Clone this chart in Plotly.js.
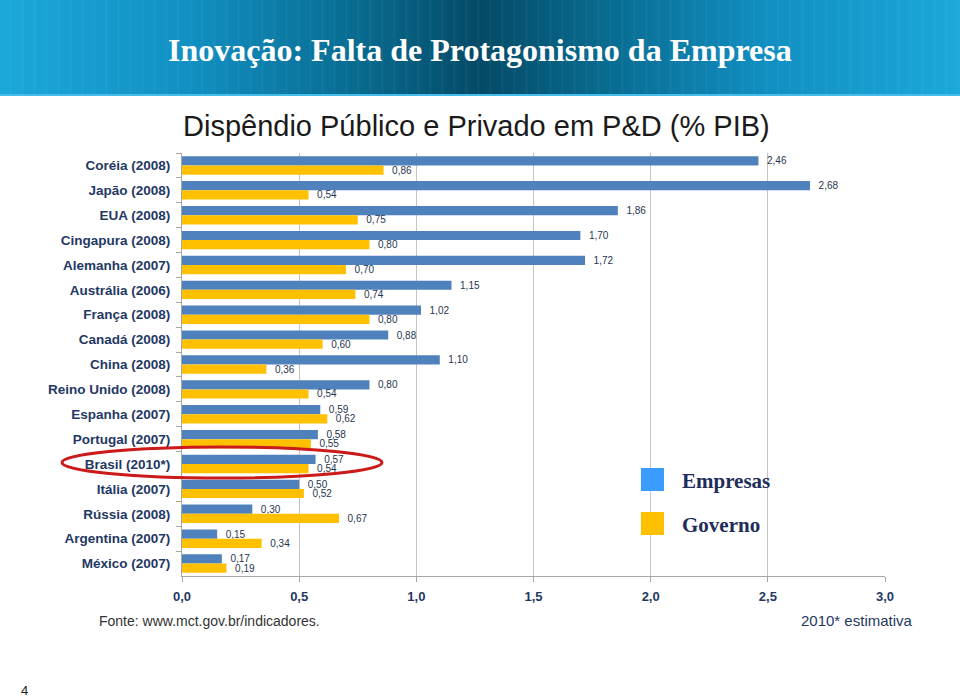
<!DOCTYPE html>
<html>
<head>
<meta charset="utf-8">
<script src="https://cdn.plot.ly/plotly-3.0.1.min.js"></script>
<style>
  html, body { margin: 0; padding: 0; background: #ffffff; }
  #wrap { position: relative; width: 960px; height: 699px; overflow: hidden; }
  #banner {
    position: absolute; left: 0; top: 0; width: 960px; height: 94px;
    background:
      repeating-linear-gradient(to right, rgba(255,255,255,0.0) 0px, rgba(255,255,255,0.0) 9px, rgba(255,255,255,0.05) 10px, rgba(255,255,255,0.0) 12px),
      linear-gradient(to right, #1ba8da 0%, #118fc2 20%, #08698d 38%, #044a66 50%, #08698d 62%, #118fc2 80%, #1ba8da 100%);
    border-bottom: 2px solid #45bde8;
  }
  #chart { position: absolute; left: 0; top: 0; width: 960px; height: 699px; }
</style>
</head>
<body>
<div id="wrap">
  <div id="banner"></div>
  <div id="chart"></div>
</div>
<script>
// ---- data ----
var countries = ['Coréia (2008)', 'Japão (2008)', 'EUA (2008)', 'Cingapura (2008)', 'Alemanha (2007)',
  'Austrália (2006)', 'França (2008)', 'Canadá (2008)', 'China (2008)', 'Reino Unido (2008)',
  'Espanha (2007)', 'Portugal (2007)', 'Brasil (2010*)', 'Itália (2007)', 'Rússia (2008)',
  'Argentina (2007)', 'México (2007)'];
var empresas = [2.46, 2.68, 1.86, 1.70, 1.72, 1.15, 1.02, 0.88, 1.10, 0.80, 0.59, 0.58, 0.57, 0.50, 0.30, 0.15, 0.17];
var governo  = [0.86, 0.54, 0.75, 0.80, 0.70, 0.74, 0.80, 0.60, 0.36, 0.54, 0.62, 0.55, 0.54, 0.52, 0.67, 0.34, 0.19];
var xTickVals = [0, 0.5, 1.0, 1.5, 2.0, 2.5, 3.0];
var seriesNames = ['Empresas', 'Governo'];

// ---- geometry helpers (pixel -> paper) ----
var ML = 182, MR = 75, MT = 153, MB = 123, W = 960, H = 699;
var PW = W - ML - MR, PH = H - MT - MB;
function px(X) { return (X - ML) / PW; }
function py(Y) { return (H - MB - Y) / PH; }

var labelFont = { family: 'Liberation Sans, Arial, sans-serif', size: 10, color: '#1f3550' };

var traces = [
  {
    type: 'bar', orientation: 'h', name: seriesNames[0],
    y: countries, x: empresas,
    marker: { color: '#4f81bd' },
    text: empresas, texttemplate: '\u00a0\u00a0%{x:.2f}', textposition: 'outside',
    textfont: labelFont, constraintext: 'none', cliponaxis: false,
    hoverinfo: 'x+y'
  },
  {
    type: 'bar', orientation: 'h', name: seriesNames[1],
    y: countries, x: governo,
    marker: { color: '#ffc000' },
    text: governo, texttemplate: '\u00a0\u00a0%{x:.2f}', textposition: 'outside',
    textfont: labelFont, constraintext: 'none', cliponaxis: false,
    hoverinfo: 'x+y'
  }
];

var ann = [];
ann.push({ xref: 'paper', yref: 'paper', x: px(480), y: py(50), xanchor: 'center', yanchor: 'middle',
  text: '<b>Inovação: Falta de Protagonismo da Empresa</b>', showarrow: false,
  font: { family: 'Liberation Serif, Times New Roman, serif', size: 32, color: '#ffffff' } });
ann.push({ xref: 'paper', yref: 'paper', x: px(476), y: py(126), xanchor: 'center', yanchor: 'middle',
  text: 'Dispêndio Público e Privado em P&D (% PIB)', showarrow: false,
  font: { family: 'Liberation Sans, Arial, sans-serif', size: 29, color: '#1a1a1a' } });
ann.push({ xref: 'paper', yref: 'paper', x: px(680), y: py(481), xanchor: 'left', yanchor: 'middle',
  text: '<b>' + seriesNames[0] + '</b>', showarrow: false,
  font: { family: 'Liberation Serif, Times New Roman, serif', size: 21, color: '#1f2d5a' } });
ann.push({ xref: 'paper', yref: 'paper', x: px(680), y: py(525), xanchor: 'left', yanchor: 'middle',
  text: '<b>' + seriesNames[1] + '</b>', showarrow: false,
  font: { family: 'Liberation Serif, Times New Roman, serif', size: 21, color: '#1f2d5a' } });
ann.push({ xref: 'paper', yref: 'paper', x: px(97), y: py(621), xanchor: 'left', yanchor: 'middle',
  text: 'Fonte: www.mct.gov.br/indicadores.', showarrow: false,
  font: { family: 'Liberation Sans, Arial, sans-serif', size: 14, color: '#333333' } });
ann.push({ xref: 'paper', yref: 'paper', x: px(915), y: py(620), xanchor: 'right', yanchor: 'middle',
  text: '2010* estimativa', showarrow: false,
  font: { family: 'Liberation Sans, Arial, sans-serif', size: 15, color: '#1f3864' } });
ann.push({ xref: 'paper', yref: 'paper', x: px(19), y: py(690), xanchor: 'left', yanchor: 'middle',
  text: '4', showarrow: false,
  font: { family: 'Liberation Sans, Arial, sans-serif', size: 13, color: '#222222' } });

var shapes = [
  { type: 'rect', xref: 'paper', yref: 'paper', x0: px(641), x1: px(664), y0: py(491), y1: py(468),
    fillcolor: '#3a9cff', line: { width: 0 } },
  { type: 'rect', xref: 'paper', yref: 'paper', x0: px(641), x1: px(664), y0: py(535), y1: py(512),
    fillcolor: '#ffc000', line: { width: 0 } },
  { type: 'circle', xref: 'paper', yref: 'paper', x0: px(62), x1: px(382), y0: py(478), y1: py(447),
    line: { color: '#cc1a1a', width: 3 }, fillcolor: 'rgba(0,0,0,0)' }
];

var layout = {
  width: W, height: H,
  margin: { l: ML, r: MR, t: MT, b: MB, pad: 0 },
  paper_bgcolor: 'rgba(0,0,0,0)', plot_bgcolor: 'rgba(0,0,0,0)',
  separators: ',.',
  showlegend: false,
  barmode: 'group', bargap: 0.26, bargroupgap: 0,
  xaxis: {
    range: [0, 3], tickvals: xTickVals, tickformat: '.1f',
    showgrid: true, gridcolor: '#c4c4c4', gridwidth: 1,
    zeroline: false, showline: true, linecolor: '#a6a6a6', linewidth: 1,
    ticks: 'outside', ticklen: 5, tickcolor: '#a6a6a6',
    tickfont: { family: 'Liberation Sans, Arial, sans-serif', size: 13, color: '#1f3864', weight: 'bold' },
    ticklabelstandoff: 3,
    fixedrange: true
  },
  yaxis: {
    type: 'category', autorange: 'reversed',
    showline: true, linecolor: '#a6a6a6', linewidth: 1,
    ticks: 'outside', ticklen: 5, tickcolor: '#a6a6a6', tickson: 'boundaries',
    showgrid: false, zeroline: false,
    tickfont: { family: 'Liberation Sans, Arial, sans-serif', size: 13.5, color: '#1f3864', weight: 'bold' },
    ticklabelstandoff: 8,
    fixedrange: true
  },
  annotations: ann,
  shapes: shapes
};

Plotly.newPlot('chart', traces, layout, { displayModeBar: false, staticPlot: true });
</script>
</body>
</html>
